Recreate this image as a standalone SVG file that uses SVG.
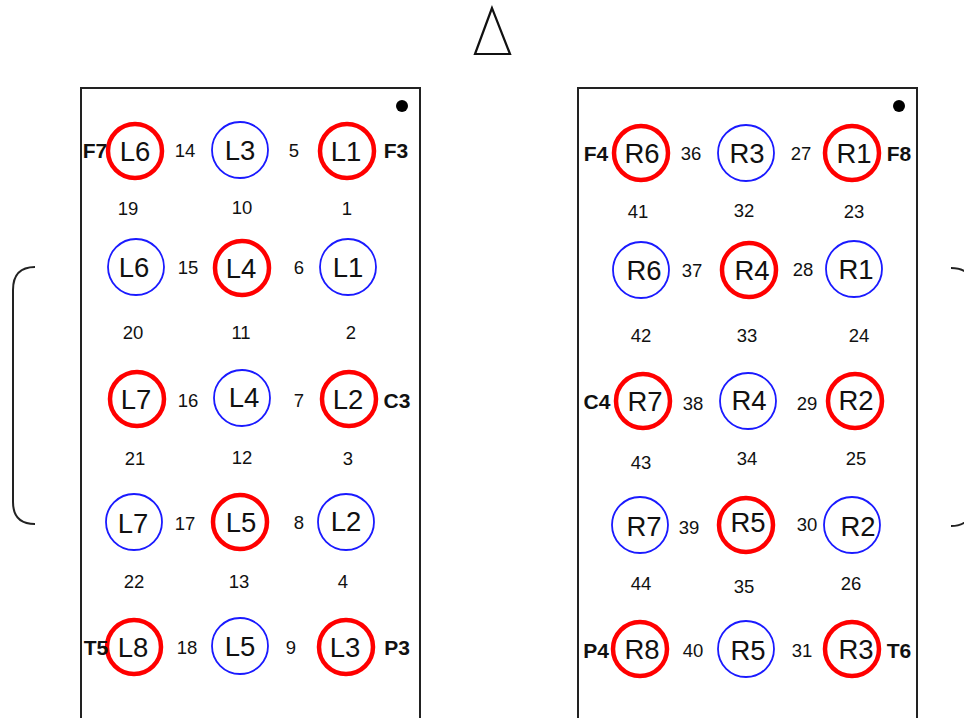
<svg xmlns="http://www.w3.org/2000/svg" width="964" height="718" viewBox="0 0 964 718">
<style>
.box{fill:#fff;stroke:#222;stroke-width:2}
.r{fill:none;stroke:#ff0000;stroke-width:4.5}
.b{fill:none;stroke:#1a1aff;stroke-width:1.8}
.cl{font-family:"Liberation Sans",Arial,sans-serif;font-size:27.5px;fill:#111;text-anchor:middle}
.n{font-family:"Liberation Sans",Arial,sans-serif;font-size:18.5px;fill:#111;text-anchor:middle}
.s{font-family:"Liberation Sans",Arial,sans-serif;font-size:21px;font-weight:bold;fill:#111;text-anchor:middle}
.br{fill:none;stroke:#222;stroke-width:2}
</style>
<rect width="964" height="718" fill="#fff"/>
<polygon points="492,8 475,54 510,54" fill="none" stroke="#111" stroke-width="2.2"/>
<path class="br" d="M35,267 Q13,267 13,290 L13,502 Q13,524 35,524"/>
<path class="br" d="M951,268 Q973,268 973,290 L973,502 Q973,526 951,526"/>
<g id="left-panel">
<rect class="box" x="81" y="88" width="339" height="640"/>
<circle cx="402" cy="106" r="6" fill="#000"/>
<g id="L6a"><circle class="r" cx="135" cy="151" r="27"/><text class="cl" x="135" y="161">L6</text></g>
<g id="L3a"><circle class="b" cx="240" cy="150" r="28"/><text class="cl" x="240" y="160">L3</text></g>
<g id="L1a"><circle class="r" cx="347" cy="151" r="27"/><text class="cl" x="346" y="161">L1</text></g>
<g id="L6b"><circle class="b" cx="136" cy="267" r="28"/><text class="cl" x="134" y="277">L6</text></g>
<g id="L4a"><circle class="r" cx="242" cy="268" r="27"/><text class="cl" x="241" y="278">L4</text></g>
<g id="L1b"><circle class="b" cx="348" cy="267" r="28"/><text class="cl" x="348" y="277">L1</text></g>
<g id="L7a"><circle class="r" cx="137" cy="399" r="27"/><text class="cl" x="136" y="409">L7</text></g>
<g id="L4b"><circle class="b" cx="242" cy="398" r="28"/><text class="cl" x="244" y="407">L4</text></g>
<g id="L2a"><circle class="r" cx="349" cy="399" r="27"/><text class="cl" x="348" y="409">L2</text></g>
<g id="L7b"><circle class="b" cx="134" cy="522" r="28"/><text class="cl" x="133" y="533">L7</text></g>
<g id="L5a"><circle class="r" cx="240" cy="522" r="27"/><text class="cl" x="241" y="532">L5</text></g>
<g id="L2b"><circle class="b" cx="346" cy="522" r="28"/><text class="cl" x="346" y="531">L2</text></g>
<g id="L8"><circle class="r" cx="134" cy="647" r="27"/><text class="cl" x="133" y="657">L8</text></g>
<g id="L5b"><circle class="b" cx="240" cy="646" r="28"/><text class="cl" x="240" y="656">L5</text></g>
<g id="L3b"><circle class="r" cx="346" cy="647" r="27"/><text class="cl" x="345" y="657">L3</text></g>
<g id="left-labels">
<text class="n" x="185" y="157">14</text><text class="n" x="294" y="157">5</text>
<text class="n" x="128" y="215">19</text><text class="n" x="242" y="214">10</text><text class="n" x="347" y="215">1</text>
<text class="n" x="188" y="274">15</text><text class="n" x="299" y="274">6</text>
<text class="n" x="133" y="339">20</text><text class="n" x="241" y="339">11</text><text class="n" x="351" y="339">2</text>
<text class="n" x="188" y="407">16</text><text class="n" x="299" y="407">7</text>
<text class="n" x="135" y="465">21</text><text class="n" x="242" y="464">12</text><text class="n" x="348" y="465">3</text>
<text class="n" x="185" y="530">17</text><text class="n" x="299" y="529">8</text>
<text class="n" x="134" y="588">22</text><text class="n" x="239" y="588">13</text><text class="n" x="343" y="588">4</text>
<text class="n" x="187" y="654">18</text><text class="n" x="291" y="654">9</text>
<text class="s" x="95" y="158">F7</text><text class="s" x="396" y="158">F3</text>
<text class="s" x="397" y="408">C3</text>
<text class="s" x="96" y="655">T5</text><text class="s" x="397" y="655">P3</text>
</g>
</g>
<g id="right-panel">
<rect class="box" x="578" y="88" width="339" height="640"/>
<circle cx="899" cy="106" r="6" fill="#000"/>
<g id="R6a"><circle class="r" cx="641" cy="153" r="27"/><text class="cl" x="642" y="163">R6</text></g>
<g id="R3a"><circle class="b" cx="746" cy="153" r="28"/><text class="cl" x="747" y="163">R3</text></g>
<g id="R1a"><circle class="r" cx="852" cy="153" r="27"/><text class="cl" x="854" y="163">R1</text></g>
<g id="R6b"><circle class="b" cx="641" cy="270" r="28"/><text class="cl" x="644" y="280">R6</text></g>
<g id="R4a"><circle class="r" cx="749" cy="270" r="27"/><text class="cl" x="752" y="280">R4</text></g>
<g id="R1b"><circle class="b" cx="854" cy="269" r="28"/><text class="cl" x="856" y="279">R1</text></g>
<g id="R7a"><circle class="r" cx="643" cy="401" r="27"/><text class="cl" x="645" y="411">R7</text></g>
<g id="R4b"><circle class="b" cx="748" cy="401" r="28"/><text class="cl" x="749" y="410">R4</text></g>
<g id="R2a"><circle class="r" cx="855" cy="401" r="27"/><text class="cl" x="856" y="410">R2</text></g>
<g id="R7b"><circle class="b" cx="640" cy="525" r="28"/><text class="cl" x="644" y="536">R7</text></g>
<g id="R5a"><circle class="r" cx="746" cy="525" r="27"/><text class="cl" x="748" y="532">R5</text></g>
<g id="R2b"><circle class="b" cx="852" cy="525" r="28"/><text class="cl" x="858" y="536">R2</text></g>
<g id="R8"><circle class="r" cx="640" cy="649" r="27"/><text class="cl" x="642" y="659">R8</text></g>
<g id="R5b"><circle class="b" cx="746" cy="649" r="28"/><text class="cl" x="748" y="660">R5</text></g>
<g id="R3b"><circle class="r" cx="852" cy="649" r="27"/><text class="cl" x="856" y="659">R3</text></g>
<g id="right-labels">
<text class="n" x="691" y="160">36</text><text class="n" x="801" y="160">27</text>
<text class="n" x="638" y="218">41</text><text class="n" x="744" y="217">32</text><text class="n" x="854" y="218">23</text>
<text class="n" x="692" y="277">37</text><text class="n" x="803" y="276">28</text>
<text class="n" x="641" y="342">42</text><text class="n" x="747" y="342">33</text><text class="n" x="859" y="342">24</text>
<text class="n" x="693" y="410">38</text><text class="n" x="807" y="410">29</text>
<text class="n" x="641" y="469">43</text><text class="n" x="747" y="465">34</text><text class="n" x="856" y="465">25</text>
<text class="n" x="689" y="534">39</text><text class="n" x="807" y="531">30</text>
<text class="n" x="641" y="590">44</text><text class="n" x="744" y="593">35</text><text class="n" x="851" y="590">26</text>
<text class="n" x="693" y="657">40</text><text class="n" x="802" y="657">31</text>
<text class="s" x="596" y="161">F4</text><text class="s" x="899" y="161">F8</text>
<text class="s" x="597" y="409">C4</text>
<text class="s" x="596" y="658">P4</text><text class="s" x="899" y="658">T6</text>
</g>
</g>
</svg>
